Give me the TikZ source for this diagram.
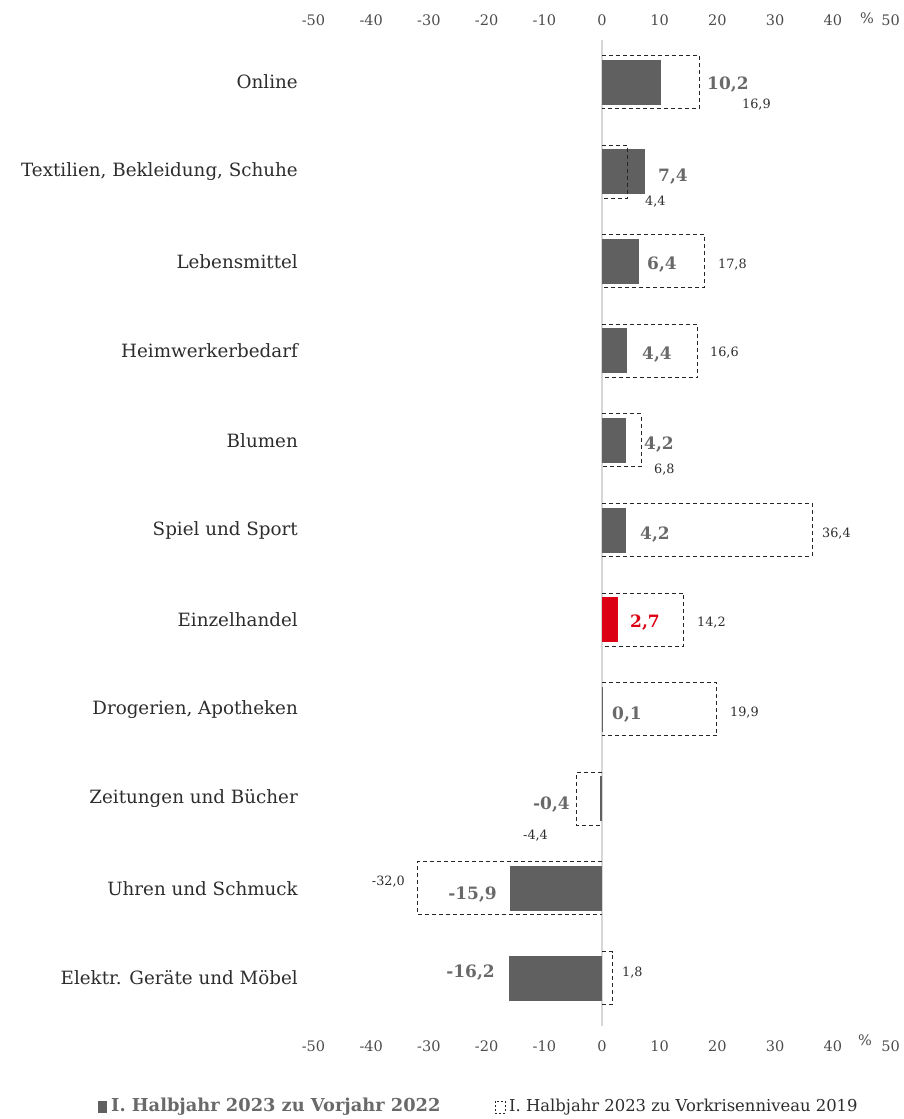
\documentclass[tikz,border=0pt]{standalone}
\usepackage{fontspec}
\setmainfont{DejaVu Serif}
\usepackage{xcolor}
\definecolor{bargray}{RGB}{96,96,96}
\definecolor{valgray}{RGB}{105,105,105}
\definecolor{txtgray}{RGB}{45,45,45}
\definecolor{axisgray}{RGB}{215,215,215}
\definecolor{hdered}{RGB}{220,0,20}

\tikzset{
  catlabel/.style={anchor=east, inner sep=0pt, text=txtgray, font=\fontsize{18.3}{22}\selectfont},
  ticklabel/.style={inner sep=0pt, text=txtgray!85, font=\fontsize{14.5}{17}\selectfont},
  vallabel/.style={inner sep=0pt, text=valgray, font=\bfseries\fontsize{17}{20}\selectfont},
  reflabel/.style={inner sep=0pt, text=txtgray, font=\fontsize{12.8}{15}\selectfont},
  refbox/.style={draw=black!85, dash pattern=on 4pt off 3pt, line width=1pt},
  leglabel/.style={anchor=west, inner sep=0pt, font=\fontsize{16.4}{19}\selectfont},
}

\begin{document}
\begin{tikzpicture}[x=1pt,y=1pt,yscale=-1]
    \useasboundingbox (0,0) rectangle (903,1119);

    % zero line
    \draw[axisgray, line width=2pt] (602,40) -- (602,1026);

    % scale top and bottom
    \foreach \v [count=\k] in {-50,-40,...,50} {
        \node[ticklabel] (top\k) at ({602+5.77*\v},20) {\v};
        \node[ticklabel] (bot\k) at ({602+5.77*\v},1046) {\v};
    }
    \node[ticklabel] (pcttop) at (867,18) {\%};
    \node[ticklabel] (pctbot) at (865,1040) {\%};

    % bars and dashed boxes (value in %)
    \begin{scope}[shift={(602,0)}, x=5.77pt]
        \foreach \bv/\rv/\bc [count=\i from 0] in {10.2/16.9/bargray, 7.4/4.4/bargray,
            6.4/17.8/bargray, 4.4/16.6/bargray, 4.2/6.8/bargray, 4.2/36.4/bargray,
            2.7/14.2/hdered, 0.1/19.9/bargray, -0.4/-4.4/bargray, -15.9/-32.0/bargray,
            -16.2/1.8/bargray} {
            \pgfmathsetmacro\yc{82+89.6*\i}
            \fill[\bc] (0,{\yc-22.5}) rectangle (\bv,{\yc+22.5});
            \draw[refbox] (0,{\yc-26.5}) -- (\rv,{\yc-26.5}) -- (\rv,{\yc+26.5}) -- (0,{\yc+26.5});
        }
    \end{scope}

    % categories
    \foreach \nm [count=\i from 0] in {Online, {Textilien, Bekleidung, Schuhe}, Lebensmittel,
        Heimwerkerbedarf, Blumen, Spiel und Sport, Einzelhandel, {Drogerien, Apotheken},
        Zeitungen und Bücher, Uhren und Schmuck, Elektr. Geräte und Möbel} {
        \node[catlabel] (cat\i) at (298,{82+89.6*\i}) {\nm};
    }

    % Text Node: change to previous year
    \node[vallabel, anchor=west] (val0) at (707,85) {10,2};
    \node[vallabel, anchor=west] (val1) at (658,177) {7,4};
    \node[vallabel, anchor=west] (val2) at (647,265) {6,4};
    \node[vallabel, anchor=west] (val3) at (642,355) {4,4};
    \node[vallabel, anchor=west] (val4) at (644,445) {4,2};
    \node[vallabel, anchor=west] (val5) at (640,535) {4,2};
    \node[vallabel, anchor=west, text=hdered] (val6) at (630,623) {2,7};
    \node[vallabel, anchor=west] (val7) at (612,715) {0,1};
    \node[vallabel, anchor=east] (val8) at (570,805) {-0,4};
    \node[vallabel, anchor=east] (val9) at (497,895) {-15,9};
    \node[vallabel, anchor=east] (val10) at (495,973) {-16,2};

    % Text Node: change to 2019
    \node[reflabel, anchor=west] (ref0) at (742,105) {16,9};
    \node[reflabel, anchor=west] (ref1) at (645,202) {4,4};
    \node[reflabel, anchor=west] (ref2) at (718,265) {17,8};
    \node[reflabel, anchor=west] (ref3) at (710,353) {16,6};
    \node[reflabel, anchor=west] (ref4) at (654,470) {6,8};
    \node[reflabel, anchor=west] (ref5) at (822,534) {36,4};
    \node[reflabel, anchor=west] (ref6) at (697,623) {14,2};
    \node[reflabel, anchor=west] (ref7) at (730,713) {19,9};
    \node[reflabel, anchor=west] (ref8) at (523,836) {-4,4};
    \node[reflabel, anchor=east] (ref9) at (405,882) {-32,0};
    \node[reflabel, anchor=west] (ref10) at (622,973) {1,8};

    % legend
    \fill[bargray] (98,1101) rectangle (107,1113);
    \node[leglabel, text=valgray, font=\bfseries\fontsize{17.8}{20}\selectfont] (leg1) at (111,1107) {I. Halbjahr 2023 zu Vorjahr 2022};
    \draw[refbox, line width=0.8pt, dash pattern=on 2pt off 2pt] (495,1101) rectangle (505,1113);
    \node[leglabel, text=txtgray] (leg2) at (509,1107) {I. Halbjahr 2023 zu Vorkrisenniveau 2019};
\end{tikzpicture}
\end{document}
